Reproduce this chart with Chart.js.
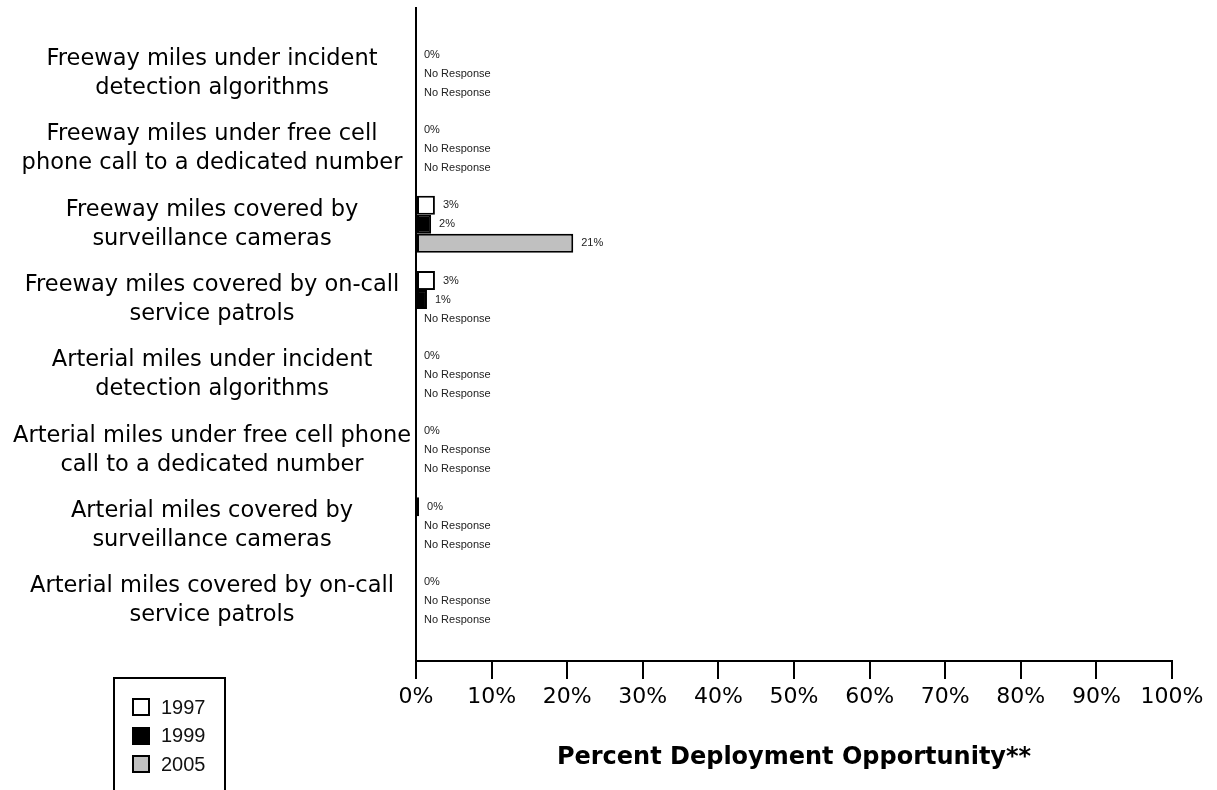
<!DOCTYPE html>
<html>
<head>
<meta charset="utf-8">
<script src="https://cdn.jsdelivr.net/npm/chart.js@4.4.1/dist/chart.umd.min.js"></script>
<style>
  body { margin: 0; background: #fff; }
  #wrap { position: relative; width: 1217px; height: 790px; overflow: hidden; }
  #legend {
    position: absolute; left: 113px; top: 677px; width: 113px; height: 140px;
    border: 2px solid #000; box-sizing: border-box; padding: 14px 0 0 17px;
    font-family: "Liberation Sans", Arial, sans-serif;
  }
  .item { display: flex; align-items: center; height: 28.5px; font-size: 20px; color: #111; }
  .swatch { width: 14px; height: 14px; border: 2px solid #000; margin-right: 11px; }
</style>
</head>
<body>
<div id="wrap">
  <canvas id="deployChart" width="1217" height="790"></canvas>
  <div id="legend"></div>
</div>
<script>
// Categories, top to bottom
const categories = [
  ["Freeway miles under incident", "detection algorithms"],
  ["Freeway miles under free cell", "phone call to a dedicated number"],
  ["Freeway miles covered by", "surveillance cameras"],
  ["Freeway miles covered by on-call", "service patrols"],
  ["Arterial miles under incident", "detection algorithms"],
  ["Arterial miles under free cell phone", "call to a dedicated number"],
  ["Arterial miles covered by", "surveillance cameras"],
  ["Arterial miles covered by on-call", "service patrols"]
];

// Percent deployment; null = No Response
const values1997 = [0, 0, 2.5, 2.5, 0, 0, 0.4, 0];
const values1999 = [null, null, 2, 1.45, null, null, null, null];
const values2005 = [null, null, 20.8, null, null, null, null, null];

const xTicks = [0, 10, 20, 30, 40, 50, 60, 70, 80, 90, 100];

const WIDE = '"DejaVu Sans", Verdana, sans-serif';
const SMALL = '"Liberation Sans", Arial, sans-serif';

function toPoints(values) {
  return values.map((v, i) => ({ x: v, y: i }));
}

// "3%" next to each bar, "No Response" where there is no value
const valueLabels = {
  id: "valueLabels",
  afterDatasetsDraw(chart) {
    const ctx = chart.ctx;
    const x0 = chart.scales.x.getPixelForValue(0);
    const yScale = chart.scales.y;
    ctx.save();
    ctx.font = "11px " + SMALL;
    ctx.fillStyle = "#222";
    ctx.textBaseline = "middle";
    chart.data.datasets.forEach((ds, di) => {
      chart.getDatasetMeta(di).data.forEach((bar, i) => {
        const v = ds.data[i].x;
        const text = v === null ? "No Response" : Math.round(v) + "%";
        const end = v === null ? x0 : bar.x;
        let y = bar.y;
        if (isNaN(y)) y = yScale.getPixelForValue(i) + (di - 1) * 19;
        ctx.fillText(text, Math.max(end + 8, x0 + 8), y);
      });
    });
    ctx.restore();
  }
};

const chart = new Chart(document.getElementById("deployChart"), {
  type: "bar",
  data: {
    datasets: [
      { label: "1997", data: toPoints(values1997), backgroundColor: "#ffffff", borderColor: "#000", borderWidth: 2 },
      { label: "1999", data: toPoints(values1999), backgroundColor: "#000000", borderColor: "#000", borderWidth: 2 },
      { label: "2005", data: toPoints(values2005), backgroundColor: "#c0c0c0", borderColor: "#000", borderWidth: 2 }
    ]
  },
  options: {
    indexAxis: "y",
    responsive: false,
    animation: false,
    layout: { padding: { left: 0, right: 45, top: 8, bottom: 0 } },
    datasets: {
      bar: { categoryPercentage: 0.756, barPercentage: 1, borderSkipped: false }
    },
    plugins: {
      legend: { display: false },
      tooltip: { enabled: false }
    },
    scales: {
      x: {
        type: "linear",
        min: 0,
        max: 100,
        afterBuildTicks: (scale) => { scale.ticks = xTicks.map(v => ({ value: v })); },
        afterFit: (scale) => {
          scale.paddingLeft = 0;
          scale.paddingRight = 0;
          scale.height = 129;
        },
        grid: { drawOnChartArea: false, drawTicks: true, tickLength: 18, color: "#000", lineWidth: 2 },
        border: { display: true, color: "#000", width: 2 },
        ticks: {
          padding: 5,
          color: "#000",
          font: { family: WIDE, size: 22 },
          callback: (v) => v + "%"
        },
        title: {
          display: true,
          text: "Percent Deployment Opportunity**",
          color: "#000",
          font: { family: WIDE, size: 24, weight: "bold" },
          padding: { top: 20, bottom: 18 }
        }
      },
      y: {
        type: "linear",
        reverse: true,
        offset: false,
        min: -0.869,
        max: 7.796,
        afterBuildTicks: (scale) => { scale.ticks = categories.map((c, i) => ({ value: i })); },
        afterFit: (scale) => {
          scale.paddingTop = 0;
          scale.paddingBottom = 0;
          scale.width = 416;
        },
        grid: { display: false, drawTicks: false },
        border: { display: true, color: "#000", width: 2 },
        ticks: {
          padding: 5,
          crossAlign: "center",
          color: "#000",
          font: { family: WIDE, size: 22.5, lineHeight: 1.29 },
          callback: (v) => categories[v]
        }
      }
    }
  },
  plugins: [valueLabels]
});

// Legend frame in the lower left
const legend = document.getElementById("legend");
chart.data.datasets.forEach((ds) => {
  const item = document.createElement("div");
  item.className = "item";
  item.innerHTML = `<span class="swatch" style="background:${ds.backgroundColor}"></span>${ds.label}`;
  legend.appendChild(item);
});
</script>
</body>
</html>
